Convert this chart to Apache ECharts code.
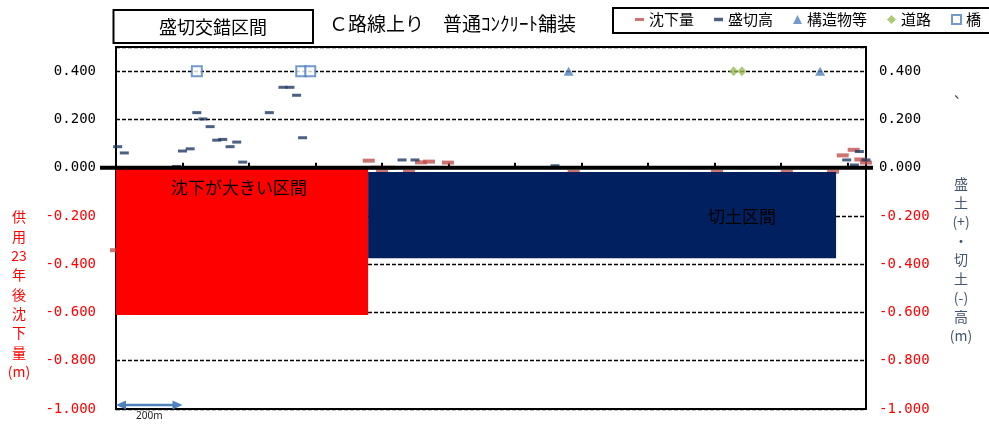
<!DOCTYPE html>
<html><head><meta charset="utf-8">
<script src="https://cdn.jsdelivr.net/npm/echarts@6/dist/echarts.min.js"></script>
<style>html,body{margin:0;padding:0;background:#fff}#c{width:989px;height:424px}</style>
</head><body><div id="c"></div>
<script>
// ---------------- data ----------------
const xMin = 0, xMax = 2255, xStep = 200;           // metres
const yMin = -1.0, yMax = 0.5, yStep = 0.2, yLabelTop = 0.4;

// 沈下量 (red dashes)
const settleX = [0, 760, 782, 800, 821, 881, 917, 941, 998, 1376, 1807, 2017, 2156, 2185, 2218, 2238, 2255];
const settleY = [-0.342, 0.029, 0.0, -0.015, 0.0, -0.017, 0.022, 0.025, 0.021, -0.017, -0.017, -0.017, -0.017, 0.051, 0.074, 0.034, 0.021];

// 盛切高 (navy dashes)
const fillX = [5, 25, 182, 200, 223, 243, 261, 283, 303, 321, 343, 363, 381, 461, 502, 523, 543, 561, 860, 899, 1320, 1886, 2126, 2162, 2197, 2220, 2235, 2255];
const fillY = [0.087, 0.061, 0.005, 0.069, 0.078, 0.228, 0.202, 0.170, 0.114, 0.117, 0.087, 0.106, 0.023, 0.228, 0.333, 0.333, 0.300, 0.124, 0.032, 0.032, 0.008, 0.0, 0.0, 0.0, 0.032, 0.011, 0.067, 0.032];

// 構造物等 / 道路 / 橋 markers (plotted at 0.400)
const structX = [1361, 2117];
const roadX = [1857, 1882];
const bridgeX = [243, 557, 584];
const markerLevel = 0.4;

// shaded sections
const zoneNames = ['沈下が大きい区間', '切土区間'];
const zoneX0 = [0, 758];
const zoneX1 = [758, 2165];
const zoneTop = [0, -0.018];
const zoneBottom = [-0.61, -0.375];

const seriesNames = ['沈下量', '盛切高', '構造物等', '道路', '橋'];
const boxTitle = '盛切交錯区間';
const mainTitle = 'Ｃ路線上り　普通ｺﾝｸﾘｰﾄ舗装';
const leftAxisName = ['供', '用', '23', '年', '後', '沈', '下', '量', '(m)'];
const rightAxisName = ['盛', '土', '(+)', '・', '切', '土', '(-)', '高', '(m)'];
const scaleLabel = '200m';

// ---------------- styles ----------------
const CJK = '"Noto Sans CJK JP", sans-serif';
const MONO = '"DejaVu Sans Mono", monospace';
const C_RED = '#C0504D', C_NAVY = '#1F3864', C_BLUE = '#4F81BD', C_GREEN = '#9BBB59';
const zoneColors = ['#FF0000', '#002060'];

const fmt = v => {
  if (Math.abs(v) < 1e-9) v = 0;
  if (v > yLabelTop + 1e-9) return '';
  return v.toFixed(3);
};
const labelColor = v => (v < -1e-9 ? '#FF0000' : '#000000');

const chart = echarts.init(document.getElementById('c'), null, {renderer: 'canvas'});

const pair = (xs, ys) => xs.map((x, i) => [x, ys[i]]);
const level = xs => xs.map(x => [x, markerLevel]);

chart.setOption({
  animation: false,
  backgroundColor: '#fff',
  grid: {left: 116, right: 123, top: 47, bottom: 15, show: true, borderColor: '#000', borderWidth: 2, backgroundColor: 'transparent'},
  legend: {
    left: 635, top: 12, width: 400, padding: 0, itemGap: 20, itemWidth: 9, itemHeight: 9, selectedMode: false,
    textStyle: {fontFamily: CJK, fontSize: 15, color: '#000'},
    data: [
      {name: seriesNames[0], icon: 'path://M0,0H12V4H0Z', itemStyle: {color: C_RED}},
      {name: seriesNames[1], icon: 'path://M0,0H9V3.5H0Z', itemStyle: {color: C_NAVY}},
      {name: seriesNames[2], icon: 'triangle'},
      {name: seriesNames[3], icon: 'diamond'},
      {name: seriesNames[4], icon: 'rect', itemStyle: {color: '#fff', borderColor: C_BLUE, borderWidth: 2}}
    ]
  },
  xAxis: {
    type: 'value', min: xMin, max: xMax, interval: xStep,
    axisLine: {show: true, lineStyle: {color: '#000', width: 2}},
    axisTick: {show: true, inside: true, length: 5, lineStyle: {color: '#000', width: 2}},
    axisLabel: {show: false}, splitLine: {show: false}
  },
  yAxis: [
    {
      type: 'value', min: yMin, max: yMax, interval: yStep, position: 'left',
      axisLine: {show: true, lineStyle: {color: '#000', width: 2}},
      axisTick: {show: false},
      splitLine: {show: true, lineStyle: {color: '#000', type: [4, 2], width: 1.4}},
      axisLabel: {margin: 20, formatter: fmt, color: labelColor, fontFamily: MONO, fontSize: 14}
    },
    {
      type: 'value', min: yMin, max: yMax, interval: yStep, position: 'right',
      axisLine: {show: true, lineStyle: {color: '#000', width: 2}},
      axisTick: {show: false}, splitLine: {show: false},
      axisLabel: {margin: 13, formatter: fmt, color: labelColor, fontFamily: MONO, fontSize: 14}
    }
  ],
  series: [
    {
      type: 'custom', name: 'zones', z: 3, silent: true,
      encode: {x: [0, 1], y: [2, 3]},
      data: zoneX0.map((x, i) => [x, zoneX1[i], zoneTop[i], zoneBottom[i]]),
      renderItem: (params, api) => {
        const p0 = api.coord([api.value(0), api.value(2)]);
        const p1 = api.coord([api.value(1), api.value(3)]);
        return {type: 'rect', shape: {x: p0[0], y: p0[1], width: p1[0] - p0[0], height: p1[1] - p0[1]},
                style: {fill: zoneColors[params.dataIndex]}};
      }
    },
    {type: 'scatter', name: seriesNames[0], z: 2, symbol: 'rect', symbolSize: [12, 4],
     itemStyle: {color: C_RED}, data: pair(settleX, settleY)},
    {type: 'scatter', name: seriesNames[1], z: 2, symbol: 'rect', symbolSize: [9, 3],
     itemStyle: {color: C_NAVY}, data: pair(fillX, fillY)},
    {type: 'scatter', name: seriesNames[2], z: 2, symbol: 'triangle', symbolSize: [10, 9],
     itemStyle: {color: C_BLUE}, data: level(structX)},
    {type: 'scatter', name: seriesNames[3], z: 2, symbol: 'diamond', symbolSize: [9, 10],
     itemStyle: {color: C_GREEN}, data: level(roadX)},
    {type: 'scatter', name: seriesNames[4], z: 2, symbol: 'rect', symbolSize: 10,
     itemStyle: {color: '#fff', borderColor: C_BLUE, borderWidth: 2}, data: level(bridgeX)}
  ]
});

// ---------------- annotations ----------------
const px = (x, y) => chart.convertToPixel({xAxisIndex: 0, yAxisIndex: 0}, [x, y]);
const [gx0, gy0] = px(xMin, 0);
const [gx1, gyBottom] = px(xMax, yMin);
const [x200] = px(xStep, 0);
const arrowY = gyBottom - 4;

const txt = (text, x, y, opt) => Object.assign({
  type: 'text', z: 100, silent: true,
  style: Object.assign({text, x, y, fill: '#000', fontFamily: CJK, fontSize: 14,
    align: 'center', textAlign: 'center', verticalAlign: 'middle', textVerticalAlign: 'middle'}, opt || {})
});

chart.setOption({
  graphic: [
    {type: 'rect', z: 100, shape: {x: 113.5, y: 10, width: 199.5, height: 33}, style: {fill: '#fff', stroke: '#000', lineWidth: 2}},
    txt(boxTitle, 213, 27, {fontSize: 18}),
    txt(mainTitle, 329, 24, {fontSize: 19, align: 'left', textAlign: 'left'}),
    {type: 'rect', z: 0, shape: {x: 613, y: 8, width: 390, height: 25}, style: {fill: 'none', stroke: '#000', lineWidth: 2}},
    txt(leftAxisName.join('\n'), 19, 207.5, {fill: '#FF0000', fontSize: 14, lineHeight: 19.3, verticalAlign: 'top', textVerticalAlign: 'top'}),
    txt(rightAxisName.join('\n'), 961, 174.5, {fill: '#44546A', fontSize: 14, lineHeight: 19, verticalAlign: 'top', textVerticalAlign: 'top'}),
    txt('、', 954, 86, {fill: '#44546A', fontSize: 14, align: 'left', textAlign: 'left', verticalAlign: 'top', textVerticalAlign: 'top'}),
    {type: 'line', z: 100, shape: {x1: gx0 - 16, y1: gy0, x2: gx1 + 7, y2: gy0}, style: {stroke: '#000', lineWidth: 4}},
    txt(zoneNames[0], 239, 188, {fontSize: 17}),
    txt(zoneNames[1], 742, 217, {fontSize: 17}),
    {type: 'line', z: 100, shape: {x1: gx0 + 6, y1: arrowY, x2: x200 - 6, y2: arrowY}, style: {stroke: C_BLUE, lineWidth: 2.5}},
    {type: 'polygon', z: 100, shape: {points: [[gx0, arrowY], [gx0 + 10, arrowY - 4.5], [gx0 + 10, arrowY + 4.5]]}, style: {fill: C_BLUE}},
    {type: 'polygon', z: 100, shape: {points: [[x200, arrowY], [x200 - 10, arrowY - 4.5], [x200 - 10, arrowY + 4.5]]}, style: {fill: C_BLUE}},
    txt(scaleLabel, (gx0 + x200) / 2, 416, {fontFamily: '"Noto Sans", sans-serif', fontSize: 10, fill: '#222'})
  ]
});
</script></body></html>
